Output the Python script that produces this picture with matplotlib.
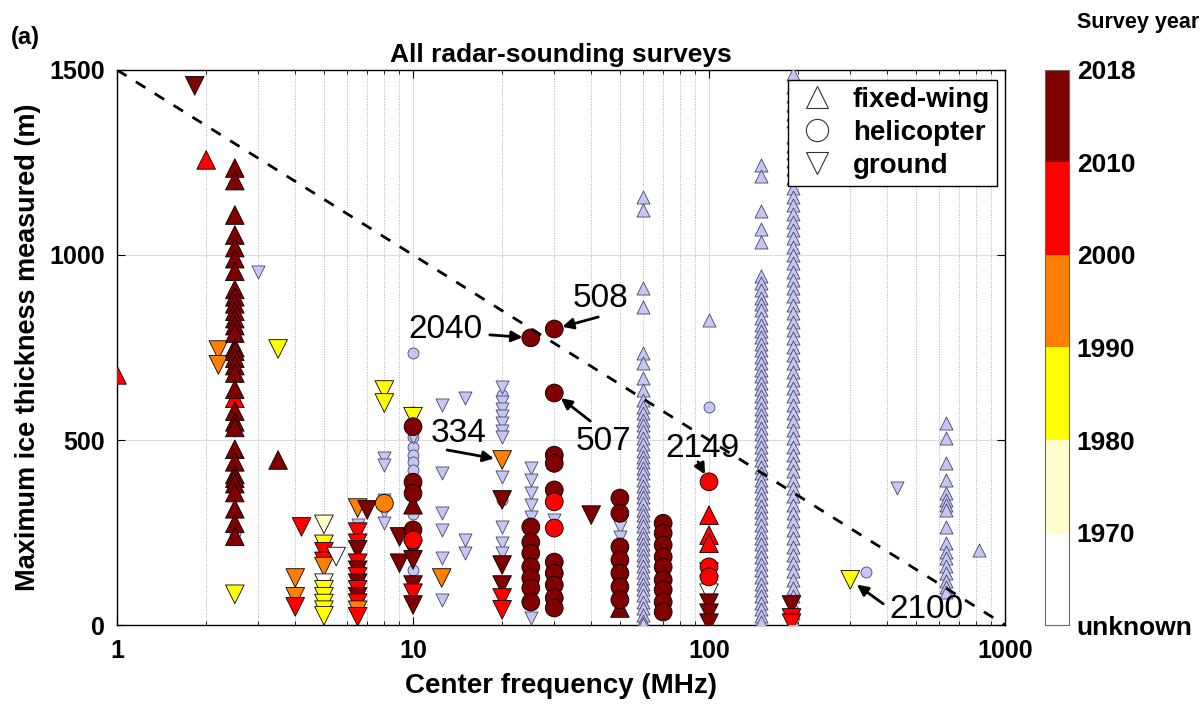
import numpy as np
import matplotlib.pyplot as plt
from matplotlib.colors import ListedColormap, BoundaryNorm
from matplotlib.lines import Line2D

plt.rcParams["font.family"] = ["Liberation Sans", "DejaVu Sans"]

# year categories: 0 unknown, 1 1970s, 2 1980s, 3 1990s, 4 2000s, 5 2010s
year_colors = ["#ffffff", "#ffffcc", "#ffff00", "#ff8000", "#ff0000", "#800000"]
year_ticks = ["unknown", "1970", "1980", "1990", "2000", "2010", "2018"]
other_color = "#c6c6f2"

# ---- colored surveys: (frequency MHz, max thickness m, year category) ----
fw_freq = [1, 2, 3.5, 10, 50, 100, 100, 100, 2.5] + [2.5] * 32
fw_thick = [676, 1257, 446, 325, 46, 297, 243, 221, 613,
            1235, 1201, 1108, 1054, 1020, 990, 956, 907, 887, 868, 848, 828,
            809, 789, 750, 740, 721, 701, 681, 637, 578, 549, 534, 475, 441,
            407, 397, 382, 358, 314, 275, 240]
fw_year = [4, 4, 5, 5, 5, 4, 4, 4, 4] + [5] * 32

heli_freq = ([8] + [10] * 5 + [25] * 8 + [30] * 12 + [50] * 7 + [70] * 9
             + [100] * 3)
heli_thick = [329,
              536, 386, 356, 257, 230,
              776, 265, 224, 194, 157, 127, 100, 62,
              800, 627, 459, 437, 365, 333, 262, 170, 140, 108, 73, 46,
              343, 302, 211, 176, 140, 103, 68,
              275, 248, 216, 184, 157, 122, 95, 62, 35,
              387, 157, 130]
heli_year = ([3] + [5, 5, 5, 5, 4] + [5] * 8 + [5] * 5 + [4, 4] + [5] * 5
             + [5] * 7 + [5] * 9 + [4, 4, 4])

gr_freq = ([1.83, 2.2, 2.2, 2.5, 3.5, 4.2, 4, 4, 4]
           + [5] * 11 + [5.5]
           + [6.5] * 13 + [7, 8, 8, 9, 9]
           + [10] * 6 + [12.5] + [20] * 6 + [40]
           + [100] * 6 + [190] * 3 + [300])
gr_thick = [1457, 743, 703, 83, 746, 265, 127, 76, 49,
            272, 218, 198, 172, 158, 113, 95, 76, 58, 40, 25, 185,
            316, 251, 221, 203, 167, 148, 130, 113, 95, 76, 59, 40, 22,
            311, 635, 600, 238, 167,
            563, 203, 176, 108, 86, 54, 127,
            446, 338, 162, 108, 73, 41, 297,
            143, 108, 86, 59, 32, 5, 54, 19, 5, 122]
gr_year = ([5, 3, 3, 2, 2, 4, 3, 3, 4]
           + [1, 2, 4, 4, 3, 0, 2, 2, 2, 2, 2, 0]
           + [3, 4, 4, 5, 4, 5, 4, 5, 4, 5, 4, 3, 4]
           + [5, 2, 2, 5, 5]
           + [2, 5, 5, 5, 4, 5, 3]
           + [3, 5, 5, 5, 4, 4, 5]
           + [5, 3, 0, 5, 5, 5, 5, 4, 4, 2])

# ---- surveys shown in lavender ----
oth_fw_60 = [1157, 1122, 911, 860, 735, 708, 667, 635, 608, 590, 572, 555,
             540, 525, 505, 490, 470, 455, 440, 425, 410, 392, 375, 360, 345,
             330, 312, 298, 282, 268, 250, 235, 220, 205, 190, 175, 160, 143,
             128, 112, 97, 80, 62, 45, 28, 12, 3]
oth_fw_150 = [1243, 1213, 1119, 1070, 1035, 943, 925, 905, 885, 868, 850,
              830, 812, 795, 778, 760, 742, 725, 708, 690, 672, 655, 638,
              620, 603, 585, 568, 550, 532, 515, 497, 480, 462, 445, 428, 410,
              392, 375, 357, 340, 322, 305, 288, 270, 252, 235, 218, 200, 183,
              165, 148, 130, 112, 95, 78, 60, 43, 25, 8]
oth_fw_190 = [1490, 1455, 1430, 1405, 1380, 1362, 1318, 1295, 1275, 1255,
              1232, 1208, 1182, 1158, 1135, 1112, 1090, 1068, 1045, 1022,
              1000, 978, 955, 932, 910, 888, 865, 842, 820, 798, 775, 752,
              730, 708, 685, 662, 640, 618, 595, 572, 550, 528, 505, 482, 460,
              438, 415, 392, 370, 348, 325, 302, 280, 258, 235, 212, 190, 168,
              145, 122, 100, 78, 55, 32, 10]
oth_fw_630 = [546, 505, 438, 392, 356, 338, 325, 311, 265, 221, 198, 180,
              160, 140, 120, 104, 90]
oth_fw_freq = [100, 820]
oth_fw_thick = [824, 203]

oth_heli_freq = [2.5, 10, 10, 10, 10, 10, 10, 10, 10, 10, 20, 20, 100, 340]
oth_heli_thick = [250, 735, 575, 509, 482, 460, 440, 419, 300, 148, 622,
                  338, 590, 143]

oth_gr_freq = ([3, 6.5] + [8] * 5 + [10] + [12.5] * 6 + [15] * 3
               + [20] * 11 + [25] * 6 + [30] + [50] * 2 + [430])
oth_gr_thick = [954, 270,
                451, 432, 338, 306, 275, 509,
                595, 410, 303, 257, 181, 68,
                613, 230, 194,
                643, 603, 585, 565, 545, 525, 508, 400, 265, 221, 194,
                424, 392, 356, 325, 292, 19,
                284, 265, 238, 370]

# reference line and annotated surveys
ref_freq = [1, 1000]
ref_thick = [1500, 0]
ann_labels = ["2040", "508", "507", "334", "2149", "2100"]
ann_freq = [25, 30, 30, 20, 100, 300]
ann_thick = [776, 800, 627, 446, 387, 122]


def px(dx, dy):
    return (dx * 0.72, dy * 0.72)


# arrow tail offsets and label offsets, in pixels from the point
arrow_off = [(-41, 3), (44, 12), (36, -28), (-55, 10), (-11, 20), (33, -24)]
text_off = [(-85, 8), (46, 30), (49, -48), (-44, 26), (-7, 33), (76, -30)]

fig = plt.figure(figsize=(12.03, 7.04), dpi=100)
ax = fig.add_axes([0.0973, 0.1122, 0.7381, 0.7884])
cax = fig.add_axes([0.8687, 0.1122, 0.0195, 0.7884])

oth_kw = dict(c=other_color, edgecolors="#44446a", linewidths=0.6, zorder=3)
ax.scatter([60] * len(oth_fw_60), oth_fw_60, marker="^", s=88, **oth_kw)
ax.scatter([150] * len(oth_fw_150), oth_fw_150, marker="^", s=88, **oth_kw)
ax.scatter([192] * len(oth_fw_190), oth_fw_190, marker="^", s=88, **oth_kw)
ax.scatter([630] * len(oth_fw_630), oth_fw_630, marker="^", s=88, **oth_kw)
ax.scatter(oth_fw_freq, oth_fw_thick, marker="^", s=88, **oth_kw)
ax.scatter(oth_heli_freq, oth_heli_thick, marker="o", s=62, **oth_kw)
ax.scatter(oth_gr_freq, oth_gr_thick, marker="v", s=88, **oth_kw)

cmap = ListedColormap(year_colors)
for freq, thick, year, mk, size in [
        (gr_freq, gr_thick, gr_year, "v", 180),
        (fw_freq, fw_thick, fw_year, "^", 180),
        (heli_freq, heli_thick, heli_year, "o", 165)]:
    cols = [year_colors[y] for y in year]
    ax.scatter(freq, thick, marker=mk, s=size, c=cols,
               edgecolors="black", linewidths=0.6, zorder=4)

ax.plot(ref_freq, ref_thick, "k--", lw=2, dashes=(4, 4), zorder=5)

for lab, f, t, ao, to in zip(ann_labels, ann_freq, ann_thick, arrow_off, text_off):
    ax.annotate("", xy=(f, t), xytext=px(*ao), textcoords="offset points",
                arrowprops=dict(arrowstyle="-|>", color="black", lw=2,
                                mutation_scale=16, shrinkA=0, shrinkB=6),
                zorder=6)
    ax.annotate(lab, xy=(f, t), xytext=px(*to), textcoords="offset points",
                ha="center", va="center", fontsize=24, zorder=6)

ax.set_xscale("log")
ax.set_xlim(1, 1000)
ax.set_ylim(0, 1500)
ax.set_yticks([0, 500, 1000, 1500])
ax.set_xticks([1, 10, 100, 1000])
ax.set_xticklabels(["1", "10", "100", "1000"])
ax.grid(True, which="major", color="#dcdcdc", lw=0.8)
ax.grid(True, which="minor", axis="x", color="#b0b0b0", lw=0.7, ls=":")
ax.set_axisbelow(True)
ax.tick_params(which="both", direction="in", top=True, right=True,
               labelsize=18)
ax.tick_params(which="major", length=6)
ax.tick_params(which="minor", length=3)
ax.tick_params(axis="x", pad=10)
ax.tick_params(axis="y", pad=9)
for t in ax.get_xticklabels() + ax.get_yticklabels():
    t.set_fontweight("bold")
for sp in ax.spines.values():
    sp.set_linewidth(1)

ax.set_xlabel("Center frequency (MHz)", fontsize=20, fontweight="bold",
              labelpad=7)
ax.set_ylabel("Maximum ice thickness measured (m)", fontsize=19.5,
              fontweight="bold", labelpad=6)
ax.set_title("All radar-sounding surveys", fontsize=19, fontweight="bold",
             pad=6)

handles = [Line2D([], [], ls="", marker=m, ms=16, mfc="white", mec="#333333",
                  mew=0.8) for m in ["^", "o", "v"]]
leg = ax.legend(handles, ["fixed-wing", "helicopter", "ground"],
                loc="upper right", bbox_to_anchor=(0.991, 0.982),
                borderaxespad=0,
                prop=dict(size=20, weight="bold"), fancybox=False,
                edgecolor="black", framealpha=1, handletextpad=0.5,
                borderpad=0.25, labelspacing=0.25, handlelength=1.6)
leg.get_frame().set_linewidth(1)
leg.set_zorder(7)

norm = BoundaryNorm(np.arange(7), cmap.N)
cb = fig.colorbar(plt.cm.ScalarMappable(norm=norm, cmap=cmap), cax=cax,
                  ticks=np.arange(7))
cb.ax.set_yticklabels(year_ticks)
cb.ax.tick_params(length=0, labelsize=19, pad=6)
for t in cb.ax.get_yticklabels():
    t.set_fontweight("bold")
cb.outline.set_edgecolor("#666666")
cb.outline.set_linewidth(0.8)

fig.text(0.946, 0.968, "Survey year", ha="center", va="center",
         fontsize=15.5, fontweight="bold")
fig.text(0.009, 0.947, "(a)", ha="left", va="center", fontsize=17,
         fontweight="bold")

fig.savefig("out.png", dpi=100)
